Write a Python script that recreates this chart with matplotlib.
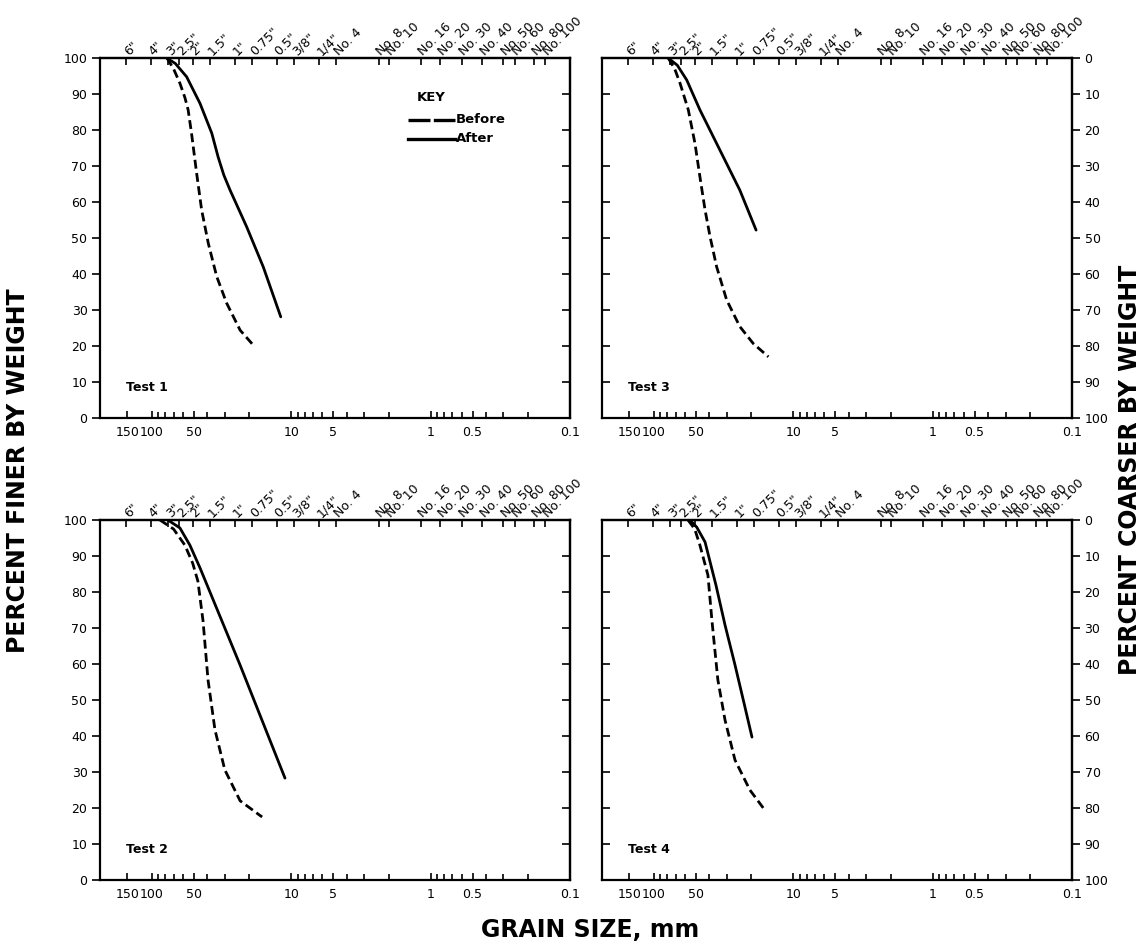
import numpy as np
import matplotlib
matplotlib.use("Agg")
import matplotlib.pyplot as plt
from matplotlib.ticker import FixedLocator, NullFormatter

plt.rcParams['font.family'] = ['DejaVu Sans']

# ---------------- data ----------------
# grain size (mm) and percent finer by weight
test1_before_d = [78, 70, 63, 58, 55, 52, 47.8, 44, 39.4, 34.3, 29.1, 23.3, 18.8]
test1_before_p = [100, 97, 93, 89, 85.6, 79.1, 68, 57.8, 48.5, 39.3, 31.9, 24.4, 20.3]
test1_after_d = [78.4, 68, 56.4, 45.2, 37.2, 33.5, 30.5, 27.5, 20.9, 15.9, 11.9]
test1_after_p = [100, 98.5, 94.8, 87.4, 79.1, 72.5, 67.5, 63.3, 53.1, 42.0, 28.1]

test2_before_d = [87.6, 70, 58, 51, 46.8, 43.0, 39.6, 35.3, 30.0, 23.3, 16.2]
test2_before_p = [100, 97.5, 93, 88, 83, 72, 55.6, 41.7, 30.6, 22, 17.5]
test2_after_d = [76.8, 63, 53.4, 45.2, 23.3, 11.1]
test2_after_p = [100, 97.8, 93, 86.7, 59.7, 28.3]

test3_before_d = [79, 71, 65, 56.7, 50.8, 46.8, 43.0, 39.6, 35.5, 30.1, 24.2, 19.4, 15.1]
test3_before_p = [100, 97, 93, 85.6, 76.3, 67, 57.8, 50.4, 42, 32.8, 25.4, 20.7, 17]
test3_after_d = [79, 68, 58.2, 46.8, 33.6, 24.2, 18.5]
test3_after_p = [100, 98, 93.9, 85.6, 74.4, 63.3, 52.2]

test4_before_d = [57, 51, 46.8, 41, 38.4, 34.8, 30.9, 26.2, 20.5, 16]
test4_before_p = [100, 97.5, 93, 84.7, 72.2, 55.6, 44.4, 33.3, 25, 19.4]
test4_after_d = [55.2, 49.3, 43, 35.9, 30.9, 26.2, 22.6, 19.8]
test4_after_p = [100, 98, 93.9, 81.9, 70.8, 59.7, 49.2, 39.7]

test_names = ["Test 1", "Test 2", "Test 3", "Test 4"]

# sieve openings (mm) and their labels for the top axis
sieve_mm = [152.4, 101.6, 76.2, 63.5, 50.8, 38.1, 25.4, 19.05, 12.7, 9.525, 6.35,
            4.75, 2.36, 2.0, 1.18, 0.85, 0.6, 0.425, 0.3, 0.25, 0.18, 0.15]
sieve_labels = ['6"', '4"', '3"', '2.5"', '2"', '1.5"', '1"', '0.75"', '0.5"', '3/8"',
                '1/4"', 'No. 4', 'No. 8', 'No. 10', 'No. 16', 'No. 20', 'No. 30',
                'No. 40', 'No. 50', 'No. 60', 'No. 80', 'No. 100']

# bottom axis
grain_ticks = [150, 100, 50, 10, 5, 1, 0.5, 0.1]
grain_labels = ['150', '100', '50', '10', '5', '1', '0.5', '0.1']
grain_minor = [90, 80, 70, 60, 40, 30, 20, 9, 8, 7, 6, 4, 3, 2,
               0.9, 0.8, 0.7, 0.6, 0.4, 0.3, 0.2]

pct_ticks = [0, 10, 20, 30, 40, 50, 60, 70, 80, 90, 100]

# ---------------- figure ----------------
fig = plt.figure(figsize=(11.48, 9.5), dpi=100)

W = 0.4094
H = 0.3789
lefts = [0.0871, 0.5244]
bottoms = [0.5600, 0.0737]

panels = [
    (0, 0, test1_before_d, test1_before_p, test1_after_d, test1_after_p, test_names[0]),
    (0, 1, test2_before_d, test2_before_p, test2_after_d, test2_after_p, test_names[1]),
    (1, 0, test3_before_d, test3_before_p, test3_after_d, test3_after_p, test_names[2]),
    (1, 1, test4_before_d, test4_before_p, test4_after_d, test4_after_p, test_names[3]),
]

dash = (0, (3.2, 1.6))
tick_fs = 9

for col, row, bd, bp, ad, ap, name in panels:
    ax = fig.add_axes([lefts[col], bottoms[row], W, H])
    ax.set_xscale('log')
    ax.set_xlim(236, 0.1)
    ax.set_ylim(0, 100)
    for s in ax.spines.values():
        s.set_linewidth(1.6)

    ax.plot(bd, bp, color='black', lw=2.0, linestyle=dash, solid_joinstyle='round',
            dash_capstyle='butt', dash_joinstyle='round')
    ax.plot(ad, ap, color='black', lw=2.0, solid_capstyle='round', solid_joinstyle='round')

    # bottom x-axis
    ax.xaxis.set_major_locator(FixedLocator(grain_ticks))
    ax.set_xticklabels(grain_labels)
    ax.xaxis.set_minor_locator(FixedLocator(grain_minor))
    ax.xaxis.set_minor_formatter(NullFormatter())
    ax.tick_params(axis='x', which='major', direction='in', length=5, width=1.2,
                   labelsize=tick_fs, pad=6)
    ax.tick_params(axis='x', which='minor', direction='in', length=4, width=1.2)

    # top sieve axis
    top = ax.secondary_xaxis('top')
    top.set_xticks(sieve_mm)
    top.set_xticklabels(sieve_labels)
    top.xaxis.set_minor_locator(FixedLocator([]))
    top.tick_params(axis='x', direction='in', length=5, width=1.2, labelsize=9, pad=3)
    top.spines['top'].set_linewidth(1.6)
    for lab in top.get_xticklabels():
        lab.set_rotation(45)
        lab.set_rotation_mode('anchor')
        lab.set_ha('left')
        lab.set_va('center')

    ax.set_yticks(pct_ticks)
    if col == 0:
        ax.set_yticklabels([str(v) for v in pct_ticks])
        ax.tick_params(axis='y', direction='out', length=6, width=1.2, labelsize=tick_fs, pad=3)
        rt = ax.secondary_yaxis('right')
        rt.set_yticks(pct_ticks)
        rt.set_yticklabels([])
        rt.tick_params(axis='y', direction='in', length=6, width=1.2)
        rt.spines['right'].set_linewidth(1.6)
    else:
        ax.set_yticklabels([])
        ax.tick_params(axis='y', direction='in', length=6, width=1.2)
        rt = ax.secondary_yaxis('right')
        rt.set_yticks(pct_ticks)
        rt.set_yticklabels([str(100 - v) for v in pct_ticks])
        rt.tick_params(axis='y', direction='out', length=6, width=1.2, labelsize=tick_fs, pad=3)
        rt.spines['right'].set_linewidth(1.6)

    ax.text(0.055, 0.085, name, transform=ax.transAxes, fontsize=9, fontweight='bold',
            ha='left', va='center')

    if col == 0 and row == 0:
        ax.text(0.705, 0.89, 'KEY', transform=ax.transAxes, fontsize=9.5,
                fontweight='bold', ha='center', va='center')
        ax.plot([0.655, 0.755], [0.828, 0.828], transform=ax.transAxes, color='black',
                lw=2.4, linestyle=(0, (6.6, 1.0)))
        ax.plot([0.655, 0.755], [0.776, 0.776], transform=ax.transAxes, color='black',
                lw=2.4)
        ax.text(0.758, 0.828, 'Before', transform=ax.transAxes, fontsize=9.5,
                fontweight='bold', ha='left', va='center')
        ax.text(0.758, 0.776, 'After', transform=ax.transAxes, fontsize=9.5,
                fontweight='bold', ha='left', va='center')

fig.text(0.016, 0.505, 'PERCENT FINER BY WEIGHT', rotation=90, fontsize=17,
         fontweight='bold', ha='center', va='center')
fig.text(0.984, 0.505, 'PERCENT COARSER BY WEIGHT', rotation=90, fontsize=17,
         fontweight='bold', ha='center', va='center')
fig.text(0.514, 0.021, 'GRAIN SIZE, mm', fontsize=17, fontweight='bold',
         ha='center', va='center')

fig.savefig('out.png', dpi=100)
